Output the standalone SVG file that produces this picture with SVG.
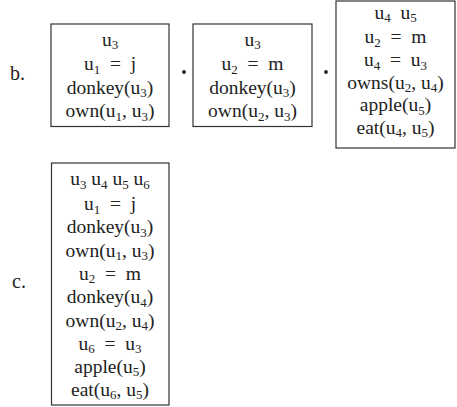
<svg xmlns="http://www.w3.org/2000/svg" width="457" height="407" viewBox="0 0 457 407">
<style>
text{font-family:"Liberation Serif","DejaVu Serif",serif;font-size:19.5px;fill:#222;text-anchor:middle}
.lbl{text-anchor:start;font-size:20px}
.s{font-size:13px}
.box{fill:#fff;stroke:#333;stroke-width:1.2}
.dot{fill:#222}
</style>
<g id="labels">
<text class="lbl" x="10" y="80">b.</text>
<text class="lbl" x="12" y="288">c.</text>
</g>
<g id="box1">
<rect class="box" x="51" y="24" width="118" height="102.5"/>
<text x="110" y="45.5">u<tspan class="s" dy="3.5">3</tspan></text>
<text x="110" y="70">u<tspan class="s" dy="3.5">1</tspan><tspan dy="-3.5" xml:space="preserve">  =  j</tspan></text>
<text x="110" y="93.5">donkey(u<tspan class="s" dy="3.5">3</tspan><tspan dy="-3.5">)</tspan></text>
<text x="110" y="117">own(u<tspan class="s" dy="3.5">1</tspan><tspan dy="-3.5">, u</tspan><tspan class="s" dy="3.5">3</tspan><tspan dy="-3.5">)</tspan></text>
</g>
<g id="box2">
<rect class="box" x="193" y="24" width="119" height="102.5"/>
<text x="252.5" y="45.5">u<tspan class="s" dy="3.5">3</tspan></text>
<text x="252.5" y="70">u<tspan class="s" dy="3.5">2</tspan><tspan dy="-3.5" xml:space="preserve">  =  m</tspan></text>
<text x="252.5" y="93.5">donkey(u<tspan class="s" dy="3.5">3</tspan><tspan dy="-3.5">)</tspan></text>
<text x="252.5" y="117">own(u<tspan class="s" dy="3.5">2</tspan><tspan dy="-3.5">, u</tspan><tspan class="s" dy="3.5">3</tspan><tspan dy="-3.5">)</tspan></text>
</g>
<g id="box3">
<rect class="box" x="336" y="1" width="119" height="147"/>
<text x="395.5" y="18.5">u<tspan class="s" dy="3.5">4</tspan><tspan dy="-3.5" xml:space="preserve">  u</tspan><tspan class="s" dy="3.5">5</tspan></text>
<text x="395.5" y="43">u<tspan class="s" dy="3.5">2</tspan><tspan dy="-3.5" xml:space="preserve">  =  m</tspan></text>
<text x="395.5" y="66">u<tspan class="s" dy="3.5">4</tspan><tspan dy="-3.5" xml:space="preserve">  =  u</tspan><tspan class="s" dy="3.5">3</tspan></text>
<text x="395.5" y="88.5">owns(u<tspan class="s" dy="3.5">2</tspan><tspan dy="-3.5">, u</tspan><tspan class="s" dy="3.5">4</tspan><tspan dy="-3.5">)</tspan></text>
<text x="395.5" y="111">apple(u<tspan class="s" dy="3.5">5</tspan><tspan dy="-3.5">)</tspan></text>
<text x="395.5" y="133.5">eat(u<tspan class="s" dy="3.5">4</tspan><tspan dy="-3.5">, u</tspan><tspan class="s" dy="3.5">5</tspan><tspan dy="-3.5">)</tspan></text>
</g>
<g id="operators">
<circle class="dot" cx="184" cy="72" r="1.9"/>
<circle class="dot" cx="326" cy="72" r="1.9"/>
</g>
<g id="boxc">
<rect class="box" x="51.5" y="163" width="117.5" height="242"/>
<text x="110" y="185">u<tspan class="s" dy="3.5">3</tspan><tspan dy="-3.5"> u</tspan><tspan class="s" dy="3.5">4</tspan><tspan dy="-3.5"> u</tspan><tspan class="s" dy="3.5">5</tspan><tspan dy="-3.5"> u</tspan><tspan class="s" dy="3.5">6</tspan></text>
<text x="110" y="210">u<tspan class="s" dy="3.5">1</tspan><tspan dy="-3.5" xml:space="preserve">  =  j</tspan></text>
<text x="110" y="233">donkey(u<tspan class="s" dy="3.5">3</tspan><tspan dy="-3.5">)</tspan></text>
<text x="110" y="256.5">own(u<tspan class="s" dy="3.5">1</tspan><tspan dy="-3.5">, u</tspan><tspan class="s" dy="3.5">3</tspan><tspan dy="-3.5">)</tspan></text>
<text x="110" y="279.5">u<tspan class="s" dy="3.5">2</tspan><tspan dy="-3.5" xml:space="preserve">  =  m</tspan></text>
<text x="110" y="303">donkey(u<tspan class="s" dy="3.5">4</tspan><tspan dy="-3.5">)</tspan></text>
<text x="110" y="326.5">own(u<tspan class="s" dy="3.5">2</tspan><tspan dy="-3.5">, u</tspan><tspan class="s" dy="3.5">4</tspan><tspan dy="-3.5">)</tspan></text>
<text x="110" y="349.5">u<tspan class="s" dy="3.5">6</tspan><tspan dy="-3.5" xml:space="preserve">  =  u</tspan><tspan class="s" dy="3.5">3</tspan></text>
<text x="110" y="372.5">apple(u<tspan class="s" dy="3.5">5</tspan><tspan dy="-3.5">)</tspan></text>
<text x="110" y="395.5">eat(u<tspan class="s" dy="3.5">6</tspan><tspan dy="-3.5">, u</tspan><tspan class="s" dy="3.5">5</tspan><tspan dy="-3.5">)</tspan></text>
</g>
</svg>
